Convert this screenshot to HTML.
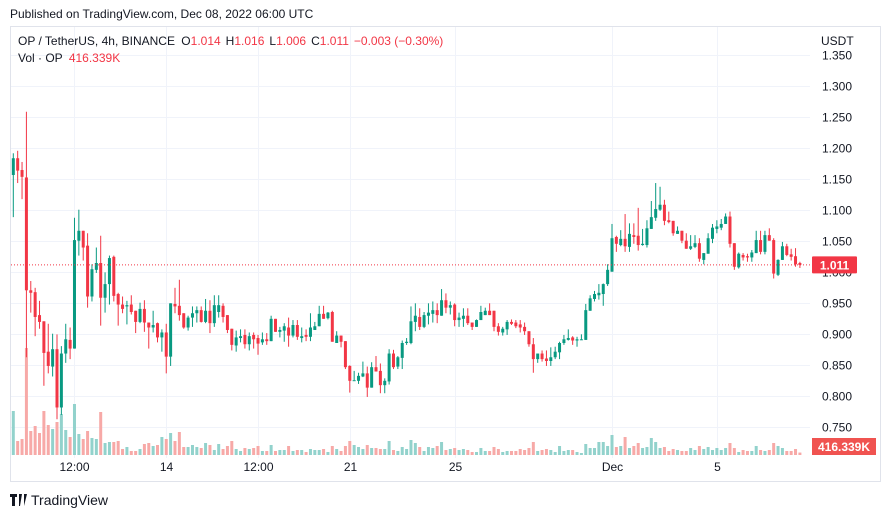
<!DOCTYPE html>
<html><head><meta charset="utf-8">
<style>
body{margin:0;background:#fff;width:891px;height:518px;overflow:hidden;font-family:"Liberation Sans",sans-serif;}
svg text{font-family:"Liberation Sans",sans-serif;}
</style></head>
<body>
<svg id="chart" width="891" height="518" xmlns="http://www.w3.org/2000/svg">
<defs><clipPath id="axclip"><rect x="810" y="51" width="70" height="410"/></clipPath></defs>
<text x="10" y="18" font-size="12" fill="#131722">Published on TradingView.com, Dec 08, 2022 06:00 UTC</text>
<rect x="10.5" y="26.5" width="870" height="455" fill="none" stroke="#e0e3eb"/>
<g id="grid"></g>
<g id="vol"></g>
<g id="candles"></g>
<g id="axlabels" clip-path="url(#axclip)"></g>
<g id="axis"></g>
<g id="taxis"></g>
<g font-size="12">
<text x="18" y="45" fill="#131722">OP / TetherUS, 4h, BINANCE <tspan dx="3">O</tspan><tspan fill="#f23645">1.014</tspan><tspan dx="5">H</tspan><tspan fill="#f23645">1.016</tspan><tspan dx="5">L</tspan><tspan fill="#f23645">1.006</tspan><tspan dx="5">C</tspan><tspan fill="#f23645">1.011</tspan><tspan dx="5" fill="#f23645">−0.003 (−0.30%)</tspan></text>
<text x="18" y="62" fill="#131722">Vol · OP <tspan dx="3" fill="#f23645">416.339K</tspan></text>
</g>
<text x="821" y="45" font-size="12" fill="#131722">USDT</text>
<g>
<path d="M10 494h7v3h-2v9h-3v-9h-2z M19 494h3l-2 12h-1z M24 494h3l-3 12z" fill="#131722"/>
<text x="31" y="505" font-size="14" fill="#131722">TradingView</text>
</g>
</svg>
<script>
const O=[1.156,1.183,1.164,1.152,0.970,0.967,0.930,0.920,0.871,0.847,0.875,0.781,0.868,0.890,0.876,1.050,1.066,1.042,0.960,1.003,1.014,0.958,0.980,1.024,0.964,0.947,0.944,0.947,0.937,0.919,0.940,0.918,0.910,0.917,0.894,0.902,0.863,0.948,0.945,0.933,0.910,0.926,0.933,0.938,0.919,0.937,0.917,0.935,0.945,0.930,0.908,0.881,0.893,0.898,0.883,0.898,0.893,0.886,0.891,0.888,0.924,0.903,0.905,0.910,0.897,0.914,0.893,0.898,0.895,0.906,0.912,0.932,0.925,0.935,0.885,0.897,0.888,0.848,0.824,0.824,0.831,0.836,0.813,0.846,0.840,0.817,0.823,0.868,0.847,0.861,0.885,0.885,0.919,0.927,0.911,0.929,0.932,0.938,0.929,0.954,0.942,0.947,0.922,0.924,0.929,0.918,0.911,0.922,0.930,0.937,0.937,0.912,0.902,0.907,0.919,0.918,0.915,0.911,0.904,0.883,0.859,0.868,0.860,0.856,0.862,0.870,0.885,0.890,0.894,0.889,0.890,0.890,0.937,0.956,0.962,0.964,0.980,1.000,1.056,1.043,1.053,1.040,1.059,1.058,1.043,1.043,1.069,1.087,1.100,1.108,1.083,1.082,1.061,1.066,1.050,1.037,1.040,1.046,1.019,1.029,1.053,1.069,1.071,1.077,1.089,1.046,1.007,1.027,1.025,1.023,1.030,1.051,1.032,1.059,1.051,0.995,1.019,1.041,1.028,1.025,1.014];
const H=[1.191,1.195,1.177,1.258,0.985,0.974,0.953,0.920,0.916,0.900,0.899,0.880,0.916,0.910,1.087,1.100,1.066,1.062,1.012,1.039,1.058,0.999,1.026,1.026,0.966,0.960,0.953,0.962,0.937,0.950,0.954,0.918,0.937,0.918,0.907,0.916,0.949,0.974,0.987,0.933,0.929,0.944,0.944,0.944,0.956,0.954,0.962,0.962,0.949,0.930,0.908,0.905,0.907,0.907,0.902,0.902,0.898,0.902,0.901,0.929,0.924,0.911,0.917,0.926,0.922,0.922,0.910,0.907,0.933,0.919,0.945,0.945,0.935,0.937,0.904,0.897,0.888,0.849,0.840,0.837,0.855,0.847,0.854,0.864,0.852,0.828,0.875,0.874,0.864,0.889,0.893,0.944,0.949,0.941,0.935,0.949,0.952,0.949,0.972,0.965,0.952,0.949,0.934,0.941,0.941,0.918,0.923,0.945,0.942,0.949,0.937,0.917,0.911,0.922,0.923,0.922,0.922,0.918,0.904,0.893,0.868,0.873,0.873,0.878,0.879,0.887,0.898,0.907,0.896,0.895,0.899,0.948,0.962,0.969,0.980,0.981,1.012,1.077,1.058,1.067,1.093,1.078,1.078,1.103,1.069,1.083,1.114,1.143,1.137,1.116,1.097,1.082,1.073,1.066,1.062,1.059,1.059,1.054,1.030,1.062,1.077,1.083,1.085,1.094,1.097,1.046,1.031,1.030,1.029,1.035,1.066,1.066,1.066,1.070,1.054,1.020,1.048,1.045,1.037,1.038,1.016];
const L=[1.088,1.143,1.117,0.862,0.934,0.896,0.908,0.816,0.836,0.831,0.762,0.769,0.853,0.859,0.876,1.026,1.018,0.942,0.952,0.998,0.913,0.934,0.947,0.952,0.913,0.933,0.915,0.931,0.901,0.917,0.903,0.876,0.902,0.886,0.871,0.836,0.848,0.933,0.921,0.908,0.905,0.911,0.918,0.918,0.917,0.901,0.911,0.926,0.918,0.901,0.873,0.871,0.886,0.876,0.873,0.876,0.866,0.882,0.882,0.888,0.903,0.894,0.887,0.879,0.894,0.890,0.886,0.888,0.888,0.906,0.912,0.924,0.923,0.887,0.885,0.878,0.843,0.805,0.825,0.819,0.830,0.798,0.813,0.839,0.804,0.804,0.818,0.843,0.843,0.843,0.882,0.883,0.904,0.906,0.909,0.915,0.918,0.917,0.929,0.933,0.931,0.912,0.911,0.911,0.914,0.906,0.911,0.922,0.930,0.930,0.904,0.897,0.897,0.898,0.914,0.909,0.902,0.898,0.879,0.837,0.853,0.855,0.848,0.848,0.859,0.859,0.882,0.889,0.882,0.879,0.890,0.890,0.937,0.952,0.955,0.945,0.977,1.000,1.032,1.041,1.032,1.032,1.045,1.034,1.042,1.039,1.069,1.082,1.098,1.075,1.078,1.058,1.061,1.046,1.037,1.035,1.038,1.016,1.012,1.029,1.046,1.062,1.067,1.077,1.039,1.003,1.005,1.018,1.016,1.016,1.030,1.028,1.028,1.050,0.989,0.993,1.019,1.025,1.018,1.008,1.006];
const C=[1.183,1.163,1.153,0.970,0.966,0.927,0.919,0.869,0.848,0.875,0.781,0.868,0.891,0.876,1.051,1.066,1.039,0.960,1.004,1.014,0.958,0.980,1.022,0.961,0.947,0.940,0.946,0.935,0.919,0.940,0.918,0.910,0.914,0.894,0.902,0.863,0.949,0.944,0.930,0.910,0.926,0.933,0.938,0.919,0.937,0.917,0.946,0.946,0.927,0.906,0.882,0.894,0.896,0.883,0.896,0.891,0.884,0.891,0.888,0.924,0.903,0.906,0.912,0.897,0.914,0.895,0.896,0.895,0.910,0.912,0.932,0.924,0.934,0.887,0.897,0.887,0.846,0.824,0.825,0.832,0.836,0.813,0.846,0.839,0.817,0.824,0.868,0.846,0.862,0.885,0.887,0.920,0.929,0.911,0.930,0.934,0.938,0.930,0.954,0.942,0.946,0.922,0.926,0.929,0.917,0.911,0.922,0.935,0.937,0.930,0.911,0.903,0.908,0.919,0.916,0.912,0.910,0.904,0.883,0.859,0.868,0.859,0.856,0.862,0.871,0.885,0.891,0.893,0.889,0.891,0.891,0.938,0.957,0.964,0.966,0.980,1.003,1.054,1.045,1.053,1.041,1.061,1.056,1.043,1.045,1.070,1.088,1.101,1.108,1.082,1.080,1.062,1.066,1.050,1.037,1.041,1.046,1.021,1.030,1.054,1.071,1.073,1.077,1.089,1.045,1.008,1.029,1.023,1.023,1.031,1.051,1.032,1.059,1.050,0.997,1.019,1.041,1.027,1.024,1.012,1.011];
const V=[7480,2380,2720,18190,4080,4930,3740,7480,5100,4420,5610,6970,4250,3060,8670,3570,2720,4080,2890,2720,7310,2040,2210,2210,2380,1020,1360,680,680,1020,1870,2040,1530,1700,3060,2720,3740,2380,3910,1360,1360,1700,1360,1190,2040,1700,850,1870,1020,1530,2380,1020,680,1190,1020,1190,1530,680,680,1700,680,850,850,1530,680,850,850,510,1020,850,850,1020,510,1530,1020,680,1530,2380,1700,1360,1020,1700,1190,1190,1020,1020,2380,850,680,1360,1020,2550,2040,1360,680,1360,1190,1530,2210,850,1020,1190,850,1020,850,510,510,1190,680,680,1360,1020,510,680,680,680,1020,850,1190,2210,680,850,1020,850,510,1530,680,850,850,510,340,1870,1190,1190,2210,2210,1530,3400,1360,1530,3060,1190,1530,2040,1190,1360,2890,2210,1190,1360,680,1020,850,680,680,1190,850,1530,1020,1360,850,1190,850,1190,2040,1190,510,850,680,680,1530,850,680,850,2040,1530,1190,680,680,1020,416];
const priceTicks=[1.35,1.30,1.25,1.20,1.15,1.10,1.05,1.00,0.95,0.90,0.85,0.80,0.75];
const timeTickIdx=[14,35,56,77,101,137,161];
const timeTickLabels=["12:00","14","12:00","21","25","Dec","5"];
const lastPrice=1.011, lastVol="416.339K";

const NS="http://www.w3.org/2000/svg";
function mk(tag,attrs,parent){const e=document.createElementNS(NS,tag);for(const k in attrs)e.setAttribute(k,attrs[k]);parent.appendChild(e);return e;}
const yP=p=>85.7+(1.3-p)*620;
const xI=i=>13.3+i*4.37;
const VOL_BASE=455, VOL_SCALE=1/170;
const yV=v=>VOL_BASE-v*VOL_SCALE;
const G="#089981",R="#f23645";
const grid=document.getElementById('grid'),axis=document.getElementById('axis'),taxis=document.getElementById('taxis'),axl=document.getElementById('axlabels');
priceTicks.forEach(p=>{
  const y=Math.round(yP(p))+0.5;
  const l=mk('line',{x1:11,x2:810,y1:y,y2:y,stroke:'#f0f3fa'},grid);
  
  
  const t=mk('text',{x:822,y:y+4,'font-size':12,fill:'#131722'},axl);
  t.textContent=p.toFixed(3);
  
  
});
timeTickIdx.forEach((i,k)=>{
  const x=Math.round(xI(i))+0.5;
  const l=mk('line',{x1:x,x2:x,y1:27,y2:458,stroke:'#f0f3fa'},grid);
  
  
  const t=mk('text',{x:x,y:471,'font-size':12,fill:'#131722','text-anchor':'middle'},taxis);
  t.textContent=timeTickLabels[k];
  
  
});
const vg=document.getElementById('vol'),cg=document.getElementById('candles');
C.forEach((c,i)=>{
  const up=c>=O[i];
  const x=xI(i);
  const vb=mk('rect',{x:x-1.5,y:yV(V[i]),width:3,height:V[i]*VOL_SCALE,fill:up?'#92d2cc':'#f7a9a7'},vg);
  
  
  const col=up?G:R;
  const w=mk('line',{x1:x,x2:x,y1:yP(H[i]),y2:yP(L[i]),stroke:col,'stroke-width':1},cg);
  
  
  const top=yP(Math.max(O[i],c)),bot=yP(Math.min(O[i],c));
  const b=mk('rect',{x:x-1.5,y:top,width:3,height:Math.max(1,bot-top),fill:col},cg);
  
  
});
const ly=yP(lastPrice);
const pl=mk('line',{x1:11,x2:810,y1:ly,y2:ly,stroke:R,'stroke-dasharray':'1,2'},axis);


const pb=mk('rect',{x:812,y:ly-8.5,width:45,height:17,fill:R,rx:1},axis);


const pt=mk('text',{x:834.5,y:ly+4.5,'font-size':12,'font-weight':'bold',fill:'#fff','text-anchor':'middle'},axis);
pt.textContent=lastPrice.toFixed(3);


const vbx=mk('rect',{x:812,y:438,width:64,height:17,fill:'#f05350'},axis);


const vt=mk('text',{x:844,y:451,'font-size':12,'font-weight':'bold',fill:'#fff','text-anchor':'middle'},axis);
vt.textContent=lastVol;


</script>
</body></html>
